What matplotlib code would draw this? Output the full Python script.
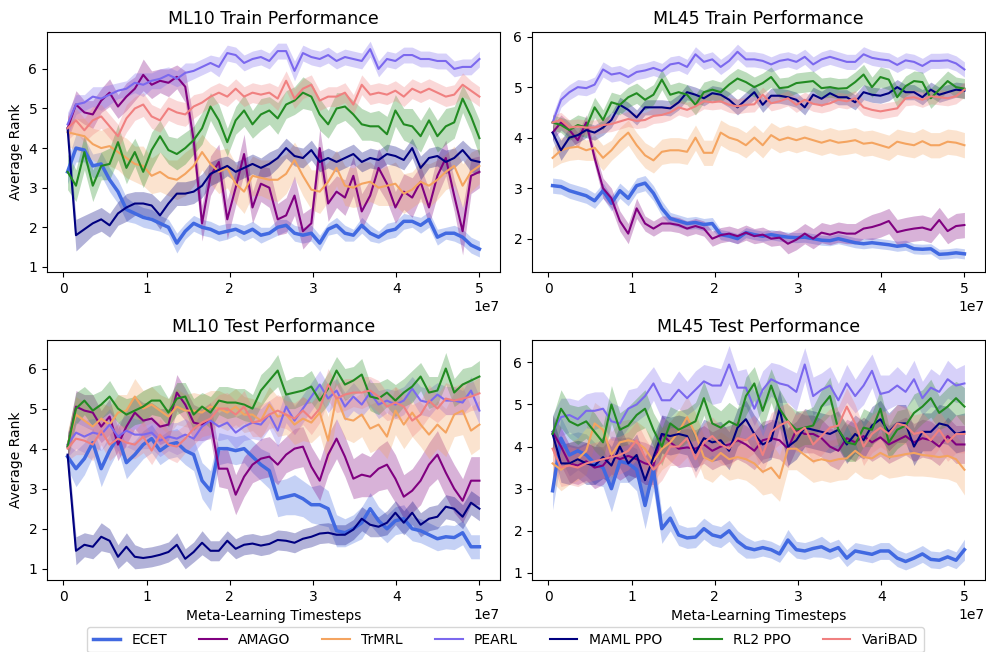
#!/usr/bin/env python3
"""
Average rank of meta-RL methods over meta-training timesteps,
ML10 / ML45 benchmarks, train and test task sets.
"""
import numpy as np
import matplotlib
matplotlib.use("Agg")
import matplotlib.pyplot as plt

METHODS = ["ECET", "AMAGO", "TrMRL", "PEARL", "MAML PPO", "RL2 PPO", "VariBAD"]
COLORS = ["royalblue", "purple", "sandybrown", "mediumslateblue", "navy", "forestgreen", "lightcoral"]

# evaluation checkpoints (env steps)
STEPS = np.linspace(5e5, 5e7, 50)

# ---- ML10 train: mean rank and std per method ----
ML10_TRAIN_ECET = [3.4, 4.0, 3.95, 3.55, 3.6, 3.2, 2.9, 2.45, 2.35, 2.25, 2.2, 2.1, 2.0, 1.6, 1.9, 2.1, 2.0, 1.95, 1.85, 1.9,
                   1.95, 1.85, 1.95, 1.8, 1.85, 2.0, 2.05, 1.85, 1.8, 1.85, 1.6, 1.95, 2.05, 1.85, 1.8, 2.05, 1.85, 1.75, 1.9, 1.95,
                   2.15, 2.15, 2.05, 2.2, 1.75, 1.85, 1.85, 1.75, 1.55, 1.45]
ML10_TRAIN_AMAGO = [4.5, 5.1, 4.9, 4.85, 5.2, 5.4, 5.05, 5.3, 5.5, 5.85, 5.6, 5.7, 5.65, 5.8, 5.55, 4.2, 2.1, 3.3, 3.65, 2.2,
                    3.0, 3.85, 2.5, 3.1, 3.0, 2.2, 2.3, 2.8, 1.9, 2.1, 4.0, 2.6, 2.9, 2.75, 3.3, 2.4, 2.8, 3.5, 3.1, 2.5,
                    2.9, 2.75, 3.15, 2.5, 3.3, 3.75, 2.8, 1.9, 3.3, 3.4]
ML10_TRAIN_TRMRL = [4.4, 4.35, 4.3, 4.1, 4.0, 4.05, 3.9, 3.75, 3.6, 3.55, 3.3, 3.4, 3.25, 3.2, 3.35, 3.55, 3.9, 3.6, 3.4, 3.5,
                    3.1, 2.9, 3.3, 3.25, 3.2, 3.2, 3.35, 3.7, 3.3, 2.95, 2.9, 3.15, 3.5, 3.05, 3.0, 3.1, 3.15, 3.0, 3.05, 3.1,
                    2.85, 2.95, 3.15, 3.05, 3.2, 3.4, 3.55, 3.05, 3.4, 3.55]
ML10_TRAIN_PEARL = [4.6, 5.1, 5.15, 5.3, 5.25, 5.35, 5.45, 5.5, 5.65, 5.6, 5.7, 5.75, 5.85, 5.75, 5.9, 5.95, 6.05, 6.15, 6.05, 6.4,
                    6.35, 6.15, 6.25, 6.3, 6.2, 6.45, 6.45, 5.95, 6.4, 6.3, 6.25, 6.35, 6.2, 6.3, 6.25, 6.2, 6.5, 6.0, 6.25, 6.2,
                    6.35, 6.35, 6.25, 6.25, 6.2, 6.2, 6.0, 6.05, 6.05, 6.25]
ML10_TRAIN_MAML = [4.5, 1.8, 1.95, 2.1, 2.2, 2.05, 2.35, 2.5, 2.6, 2.6, 2.55, 2.3, 2.6, 2.85, 2.85, 2.9, 3.05, 3.35, 3.45, 3.55,
                   3.4, 3.5, 3.6, 3.5, 3.6, 3.75, 4.0, 3.8, 3.75, 3.95, 3.65, 3.75, 3.65, 3.75, 3.85, 3.65, 3.75, 3.7, 3.85, 3.8,
                   3.7, 4.0, 3.5, 3.75, 3.8, 3.65, 3.75, 3.95, 3.7, 3.65]
ML10_TRAIN_RL2 = [3.4, 3.05, 3.9, 3.05, 3.55, 3.6, 4.15, 3.5, 3.9, 3.4, 3.95, 4.3, 3.95, 3.85, 4.0, 4.2, 4.5, 5.05, 4.7, 4.15,
                  4.7, 4.95, 4.6, 4.85, 4.95, 4.75, 5.1, 5.2, 5.4, 5.3, 4.85, 4.6, 5.0, 5.05, 4.85, 4.6, 4.55, 4.55, 4.35, 4.95,
                  4.6, 4.55, 4.3, 4.7, 4.3, 4.55, 4.65, 5.25, 4.8, 4.25]
ML10_TRAIN_VARIBAD = [4.5, 4.7, 4.45, 4.7, 4.8, 4.55, 4.3, 4.75, 5.0, 5.1, 4.8, 4.7, 5.0, 4.9, 4.85, 5.05, 5.15, 5.3, 5.4, 5.3,
                      5.5, 5.3, 5.4, 5.35, 5.4, 5.25, 5.7, 5.25, 5.5, 5.6, 5.2, 5.3, 5.3, 5.4, 5.1, 5.6, 5.35, 5.4, 5.35, 5.45,
                      5.3, 5.5, 5.4, 5.5, 5.4, 5.3, 5.35, 5.6, 5.45, 5.3]

ML10_TRAIN_ECET_SD = [0.3, 0.35, 0.3, 0.3, 0.3, 0.3, 0.3, 0.3, 0.25, 0.25, 0.25, 0.2, 0.2, 0.25, 0.2, 0.2, 0.2, 0.2, 0.2, 0.2,
                      0.15, 0.2, 0.2, 0.2, 0.15, 0.2, 0.15, 0.2, 0.2, 0.2, 0.2, 0.15, 0.2, 0.2, 0.15, 0.2, 0.2, 0.15, 0.2, 0.2,
                      0.2, 0.15, 0.2, 0.2, 0.2, 0.15, 0.2, 0.2, 0.2, 0.2]
ML10_TRAIN_AMAGO_SD = [0.3, 0.35, 0.3, 0.35, 0.3, 0.35, 0.3, 0.35, 0.3, 0.4, 0.35, 0.3, 0.35, 0.3, 0.4, 0.5, 0.45, 0.5, 0.45, 0.5,
                       0.45, 0.5, 0.4, 0.45, 0.5, 0.4, 0.45, 0.5, 0.45, 0.4, 0.5, 0.45, 0.4, 0.45, 0.5, 0.45, 0.4, 0.5, 0.45, 0.4,
                       0.45, 0.5, 0.4, 0.45, 0.5, 0.45, 0.4, 0.6, 0.45, 0.4]
ML10_TRAIN_TRMRL_SD = [0.35, 0.4, 0.45, 0.4, 0.45, 0.5, 0.45, 0.5, 0.45, 0.5, 0.45, 0.5, 0.45, 0.5, 0.55, 0.5, 0.45, 0.5, 0.55, 0.5,
                       0.5, 0.55, 0.5, 0.45, 0.5, 0.55, 0.5, 0.45, 0.5, 0.5, 0.55, 0.5, 0.45, 0.5, 0.5, 0.55, 0.5, 0.45, 0.5, 0.55,
                       0.5, 0.45, 0.5, 0.55, 0.5, 0.45, 0.5, 0.55, 0.5, 0.45]
ML10_TRAIN_PEARL_SD = [0.3, 0.25, 0.2, 0.25, 0.3, 0.25, 0.2, 0.2, 0.25, 0.3, 0.2, 0.25, 0.2, 0.2, 0.25, 0.2, 0.2, 0.2, 0.25, 0.2,
                       0.2, 0.2, 0.2, 0.2, 0.2, 0.2, 0.2, 0.25, 0.2, 0.2, 0.2, 0.2, 0.2, 0.2, 0.2, 0.2, 0.2, 0.2, 0.2, 0.2,
                       0.2, 0.2, 0.2, 0.2, 0.2, 0.2, 0.2, 0.2, 0.2, 0.2]
ML10_TRAIN_MAML_SD = [0.3, 0.4, 0.35, 0.3, 0.3, 0.3, 0.3, 0.35, 0.3, 0.3, 0.3, 0.35, 0.3, 0.3, 0.3, 0.3, 0.3, 0.3, 0.3, 0.25,
                      0.25, 0.25, 0.25, 0.25, 0.3, 0.25, 0.25, 0.25, 0.25, 0.25, 0.25, 0.25, 0.25, 0.25, 0.25, 0.25, 0.25, 0.25, 0.25, 0.25,
                      0.25, 0.25, 0.3, 0.25, 0.25, 0.3, 0.25, 0.25, 0.3, 0.3]
ML10_TRAIN_RL2_SD = [0.45, 0.4, 0.45, 0.4, 0.35, 0.4, 0.45, 0.4, 0.35, 0.4, 0.45, 0.4, 0.35, 0.4, 0.4, 0.35, 0.4, 0.35, 0.4, 0.35,
                     0.35, 0.4, 0.35, 0.4, 0.35, 0.4, 0.35, 0.35, 0.4, 0.35, 0.4, 0.35, 0.4, 0.35, 0.35, 0.4, 0.35, 0.4, 0.45, 0.4,
                     0.4, 0.45, 0.4, 0.35, 0.4, 0.45, 0.4, 0.35, 0.4, 0.45]
ML10_TRAIN_VARIBAD_SD = [0.3, 0.3, 0.3, 0.35, 0.3, 0.3, 0.3, 0.35, 0.3, 0.3, 0.3, 0.3, 0.3, 0.3, 0.3, 0.3, 0.25, 0.25, 0.25, 0.25,
                         0.25, 0.25, 0.25, 0.25, 0.25, 0.3, 0.25, 0.25, 0.25, 0.25, 0.25, 0.25, 0.25, 0.25, 0.25, 0.25, 0.25, 0.25, 0.25, 0.25,
                         0.25, 0.25, 0.25, 0.25, 0.25, 0.25, 0.25, 0.3, 0.25, 0.25]

# ---- ML45 train ----
ML45_TRAIN_ECET = [3.05, 3.03, 2.95, 2.9, 2.85, 2.75, 2.95, 2.7, 2.95, 2.8, 3.05, 3.1, 2.9, 2.6, 2.4, 2.35, 2.3, 2.32, 2.28, 2.3,
                   2.08, 2.05, 2.0, 2.12, 2.08, 2.05, 2.08, 2.05, 2.03, 2.02, 2.03, 2.0, 1.97, 1.96, 2.0, 1.96, 1.92, 1.9, 1.92, 1.9,
                   1.88, 1.85, 1.87, 1.8, 1.79, 1.8, 1.69, 1.7, 1.72, 1.7]
ML45_TRAIN_AMAGO = [4.1, 4.3, 4.15, 3.95, 4.3, 3.6, 3.0, 2.8, 2.35, 2.1, 2.6, 2.3, 2.2, 2.3, 2.3, 2.27, 2.2, 2.25, 2.2, 2.0,
                    2.07, 2.1, 2.05, 2.12, 2.05, 2.08, 2.0, 2.02, 1.9, 1.98, 2.1, 2.0, 2.12, 2.08, 2.13, 2.1, 2.1, 2.2, 2.23, 2.28,
                    2.35, 2.13, 2.17, 2.2, 2.22, 2.17, 2.37, 2.15, 2.25, 2.27]
ML45_TRAIN_TRMRL = [3.6, 3.75, 3.8, 3.82, 3.75, 3.8, 3.6, 3.75, 3.95, 4.1, 3.85, 3.65, 3.55, 3.72, 3.75, 3.75, 3.72, 4.0, 3.7, 3.7,
                    4.1, 4.0, 3.95, 3.85, 4.0, 3.85, 4.05, 3.95, 4.0, 3.95, 4.0, 3.95, 3.9, 3.95, 3.9, 3.92, 3.95, 3.88, 3.9, 3.85,
                    3.8, 3.92, 3.88, 3.85, 3.93, 3.85, 3.85, 3.92, 3.9, 3.85]
ML45_TRAIN_PEARL = [4.3, 4.75, 4.9, 5.0, 4.98, 5.05, 5.35, 5.25, 5.28, 5.2, 5.3, 5.33, 5.38, 5.32, 5.45, 5.48, 5.4, 5.65, 5.5, 5.55,
                    5.4, 5.52, 5.7, 5.55, 5.55, 5.52, 5.45, 5.52, 5.55, 5.5, 5.6, 5.45, 5.55, 5.6, 5.55, 5.5, 5.5, 5.65, 5.58, 5.55,
                    5.53, 5.44, 5.53, 5.5, 5.42, 5.52, 5.52, 5.53, 5.47, 5.35]
ML45_TRAIN_MAML = [4.1, 3.75, 4.0, 4.05, 4.15, 4.1, 4.2, 4.35, 4.65, 4.55, 4.4, 4.6, 4.6, 4.6, 4.58, 4.7, 4.9, 4.85, 4.78, 4.88,
                   4.85, 4.75, 4.6, 4.75, 4.9, 4.65, 4.83, 4.83, 4.8, 4.75, 4.6, 4.85, 4.77, 4.88, 4.8, 4.8, 4.7, 4.9, 4.85, 4.83,
                   4.88, 5.0, 4.9, 4.9, 4.8, 4.95, 4.85, 4.9, 4.95, 4.93]
ML45_TRAIN_RL2 = [4.3, 4.25, 4.15, 4.25, 4.2, 4.6, 4.35, 4.7, 4.65, 4.8, 4.88, 4.75, 4.85, 5.15, 4.85, 4.9, 4.85, 4.65, 4.9, 4.95,
                  4.9, 5.05, 5.17, 5.1, 5.0, 5.08, 5.2, 4.98, 5.0, 5.08, 5.1, 5.12, 4.98, 5.0, 4.97, 4.98, 5.1, 5.25, 5.0, 5.2,
                  5.15, 4.8, 5.02, 5.12, 5.1, 4.78, 4.95, 5.12, 5.0, 4.97]
ML45_TRAIN_VARIBAD = [4.3, 4.35, 4.2, 4.22, 4.2, 4.2, 4.25, 4.27, 4.32, 4.37, 4.33, 4.35, 4.43, 4.45, 4.5, 4.6, 4.55, 4.62, 4.72, 4.7,
                      4.72, 4.65, 4.62, 4.65, 4.66, 4.85, 4.68, 4.72, 4.78, 4.65, 4.75, 4.67, 4.64, 4.68, 4.75, 4.72, 4.78, 4.6, 4.55, 4.52,
                      4.55, 4.58, 4.78, 4.8, 4.75, 4.82, 4.8, 4.78, 4.82, 4.95]

ML45_TRAIN_ECET_SD = [0.15, 0.15, 0.15, 0.15, 0.15, 0.15, 0.15, 0.15, 0.15, 0.15, 0.15, 0.15, 0.15, 0.15, 0.12, 0.12, 0.12, 0.12, 0.12, 0.12,
                      0.1, 0.1, 0.1, 0.1, 0.1, 0.1, 0.1, 0.1, 0.1, 0.1, 0.1, 0.1, 0.1, 0.1, 0.1, 0.1, 0.1, 0.1, 0.1, 0.1,
                      0.1, 0.1, 0.1, 0.1, 0.1, 0.1, 0.1, 0.1, 0.1, 0.1]
ML45_TRAIN_AMAGO_SD = [0.15, 0.15, 0.15, 0.15, 0.15, 0.15, 0.2, 0.2, 0.2, 0.2, 0.2, 0.15, 0.15, 0.15, 0.15, 0.15, 0.15, 0.15, 0.15, 0.15,
                       0.15, 0.15, 0.15, 0.15, 0.15, 0.15, 0.15, 0.15, 0.2, 0.2, 0.2, 0.2, 0.2, 0.2, 0.2, 0.2, 0.2, 0.2, 0.25, 0.25,
                       0.25, 0.25, 0.25, 0.25, 0.25, 0.25, 0.25, 0.25, 0.25, 0.25]
ML45_TRAIN_TRMRL_SD = [0.2, 0.25, 0.25, 0.25, 0.2, 0.25, 0.25, 0.2, 0.25, 0.25, 0.25, 0.25, 0.25, 0.25, 0.25, 0.25, 0.25, 0.25, 0.25, 0.25,
                       0.25, 0.25, 0.25, 0.25, 0.25, 0.25, 0.25, 0.25, 0.25, 0.25, 0.25, 0.25, 0.25, 0.25, 0.25, 0.25, 0.25, 0.25, 0.25, 0.25,
                       0.25, 0.25, 0.25, 0.25, 0.25, 0.25, 0.25, 0.25, 0.25, 0.25]
ML45_TRAIN_PEARL_SD = [0.15, 0.15, 0.15, 0.15, 0.15, 0.15, 0.15, 0.15, 0.15, 0.15, 0.15, 0.15, 0.15, 0.15, 0.15, 0.15, 0.15, 0.15, 0.15, 0.15,
                       0.15, 0.15, 0.15, 0.15, 0.15, 0.15, 0.15, 0.15, 0.15, 0.15, 0.15, 0.15, 0.15, 0.15, 0.15, 0.15, 0.15, 0.15, 0.15, 0.15,
                       0.15, 0.15, 0.15, 0.15, 0.15, 0.15, 0.15, 0.15, 0.15, 0.15]
ML45_TRAIN_MAML_SD = [0.15, 0.2, 0.2, 0.15, 0.15, 0.15, 0.15, 0.15, 0.15, 0.15, 0.15, 0.15, 0.15, 0.15, 0.15, 0.15, 0.15, 0.15, 0.15, 0.15,
                      0.15, 0.15, 0.15, 0.15, 0.15, 0.15, 0.15, 0.15, 0.15, 0.15, 0.15, 0.15, 0.15, 0.15, 0.15, 0.15, 0.15, 0.15, 0.15, 0.15,
                      0.15, 0.15, 0.15, 0.15, 0.15, 0.15, 0.15, 0.15, 0.15, 0.15]
ML45_TRAIN_RL2_SD = [0.15, 0.15, 0.2, 0.2, 0.2, 0.2, 0.2, 0.2, 0.2, 0.2, 0.2, 0.2, 0.2, 0.2, 0.2, 0.2, 0.2, 0.2, 0.2, 0.2,
                     0.2, 0.2, 0.2, 0.2, 0.2, 0.2, 0.2, 0.2, 0.2, 0.2, 0.2, 0.2, 0.2, 0.2, 0.2, 0.2, 0.2, 0.2, 0.2, 0.2,
                     0.2, 0.2, 0.2, 0.2, 0.2, 0.2, 0.2, 0.2, 0.2, 0.2]
ML45_TRAIN_VARIBAD_SD = [0.15, 0.15, 0.15, 0.15, 0.15, 0.15, 0.15, 0.15, 0.15, 0.15, 0.15, 0.15, 0.15, 0.15, 0.15, 0.15, 0.15, 0.15, 0.15, 0.15,
                         0.15, 0.15, 0.15, 0.15, 0.15, 0.15, 0.15, 0.15, 0.15, 0.15, 0.15, 0.15, 0.15, 0.15, 0.15, 0.15, 0.15, 0.15, 0.15, 0.15,
                         0.15, 0.15, 0.15, 0.15, 0.15, 0.15, 0.15, 0.15, 0.15, 0.15]

# ---- ML10 test ----
ML10_TEST_ECET = [3.8, 3.5, 3.75, 4.15, 3.5, 3.95, 4.3, 3.65, 3.85, 4.1, 4.25, 3.95, 4.1, 4.15, 3.95, 3.85, 3.2, 2.95, 4.0, 4.0,
                  3.95, 4.0, 3.8, 3.6, 3.45, 2.75, 2.8, 2.85, 2.75, 2.6, 2.6, 2.5, 1.95, 1.9, 2.0, 2.15, 2.5, 2.2, 2.0, 2.2,
                  2.25, 2.0, 1.95, 1.85, 1.75, 1.8, 1.78, 1.9, 1.55, 1.55]
ML10_TEST_AMAGO = [4.05, 5.05, 4.95, 4.9, 4.55, 4.8, 4.1, 4.55, 4.9, 4.7, 4.75, 4.55, 4.6, 5.4, 5.1, 4.65, 4.6, 4.7, 3.5, 3.5,
                   2.85, 3.3, 3.6, 3.75, 3.8, 3.6, 3.85, 4.0, 4.05, 3.55, 3.2, 3.85, 4.25, 3.8, 3.25, 3.35, 3.3, 3.5, 3.6, 3.25,
                   2.8, 2.95, 3.2, 3.6, 3.85, 3.4, 3.0, 2.7, 3.2, 3.2]
ML10_TEST_TRMRL = [4.1, 4.85, 4.7, 4.55, 4.75, 4.6, 4.9, 4.95, 5.3, 5.0, 5.1, 4.95, 4.8, 5.05, 4.95, 4.95, 4.9, 5.05, 5.0, 4.9,
                   5.05, 4.85, 4.85, 4.7, 5.1, 4.8, 4.85, 4.6, 4.75, 4.65, 4.9, 4.2, 5.3, 4.75, 4.7, 4.85, 4.5, 4.6, 4.3, 4.95,
                   4.6, 4.9, 4.6, 4.35, 4.6, 4.4, 4.85, 4.95, 4.45, 4.6]
ML10_TEST_PEARL = [4.1, 4.4, 4.3, 4.4, 4.35, 4.6, 4.3, 4.45, 4.35, 4.35, 4.4, 4.2, 4.3, 4.25, 4.35, 4.25, 4.55, 4.7, 4.55, 4.65,
                   4.4, 4.55, 4.65, 4.6, 4.85, 4.45, 5.05, 4.7, 5.0, 5.3, 5.6, 5.25, 5.45, 5.05, 5.3, 5.1, 5.4, 5.1, 5.2, 5.1,
                   5.2, 5.5, 5.2, 5.15, 5.35, 5.2, 5.2, 5.15, 5.45, 4.95]
ML10_TEST_MAML = [3.85, 1.45, 1.6, 1.55, 1.8, 1.7, 1.3, 1.55, 1.3, 1.27, 1.3, 1.35, 1.42, 1.6, 1.25, 1.42, 1.65, 1.45, 1.45, 1.7,
                  1.5, 1.6, 1.63, 1.58, 1.62, 1.72, 1.7, 1.65, 1.75, 1.8, 1.88, 1.9, 1.85, 1.85, 1.98, 2.25, 2.1, 2.05, 2.15, 2.4,
                  2.15, 2.4, 2.1, 2.25, 2.3, 2.55, 2.5, 2.3, 2.65, 2.5]
ML10_TEST_RL2 = [4.05, 5.0, 5.2, 4.95, 5.1, 5.3, 5.0, 4.85, 4.95, 5.05, 5.2, 5.2, 4.9, 5.25, 5.3, 4.85, 5.05, 4.9, 5.2, 5.15,
                 5.15, 5.1, 5.0, 5.45, 5.7, 5.95, 5.35, 5.4, 5.45, 5.55, 5.2, 5.5, 5.95, 5.6, 5.7, 5.85, 5.3, 5.25, 5.4, 5.2,
                 5.4, 5.55, 5.8, 5.4, 5.45, 6.0, 5.4, 5.6, 5.7, 5.8]
ML10_TEST_VARIBAD = [4.0, 4.25, 4.2, 4.1, 4.45, 4.1, 4.25, 4.15, 4.1, 4.3, 3.95, 4.35, 4.1, 4.05, 4.25, 4.5, 4.65, 4.75, 5.0, 5.0,
                     4.85, 5.05, 4.65, 4.7, 4.85, 4.95, 4.85, 4.75, 4.95, 4.75, 5.0, 5.6, 5.25, 5.35, 5.4, 5.4, 5.45, 5.3, 5.05, 5.15,
                     5.05, 4.7, 4.85, 5.2, 5.0, 5.25, 5.2, 5.25, 5.3, 5.38]

ML10_TEST_ECET_SD = [0.3, 0.45, 0.4, 0.35, 0.45, 0.4, 0.35, 0.4, 0.35, 0.35, 0.35, 0.35, 0.35, 0.35, 0.35, 0.4, 0.45, 0.5, 0.4, 0.35,
                     0.35, 0.35, 0.4, 0.4, 0.45, 0.45, 0.45, 0.5, 0.45, 0.45, 0.5, 0.45, 0.4, 0.35, 0.35, 0.4, 0.4, 0.35, 0.35, 0.35,
                     0.35, 0.3, 0.3, 0.3, 0.3, 0.3, 0.3, 0.3, 0.3, 0.3]
ML10_TEST_AMAGO_SD = [0.3, 0.4, 0.4, 0.45, 0.4, 0.45, 0.4, 0.45, 0.4, 0.45, 0.4, 0.45, 0.4, 0.45, 0.4, 0.45, 0.4, 0.45, 0.45, 0.5,
                      0.5, 0.5, 0.45, 0.5, 0.5, 0.5, 0.45, 0.5, 0.5, 0.5, 0.5, 0.5, 0.5, 0.5, 0.5, 0.55, 0.5, 0.55, 0.6, 0.6,
                      0.55, 0.55, 0.6, 0.55, 0.6, 0.6, 0.6, 0.55, 0.6, 0.6]
ML10_TEST_TRMRL_SD = [0.35, 0.45, 0.45, 0.45, 0.4, 0.45, 0.45, 0.4, 0.45, 0.45, 0.45, 0.4, 0.45, 0.45, 0.4, 0.45, 0.45, 0.4, 0.45, 0.45,
                      0.45, 0.45, 0.4, 0.45, 0.45, 0.5, 0.5, 0.5, 0.55, 0.5, 0.55, 0.6, 0.55, 0.5, 0.55, 0.55, 0.6, 0.6, 0.55, 0.6,
                      0.6, 0.6, 0.55, 0.6, 0.6, 0.6, 0.55, 0.6, 0.6, 0.6]
ML10_TEST_PEARL_SD = [0.3, 0.4, 0.4, 0.35, 0.4, 0.4, 0.35, 0.4, 0.4, 0.35, 0.4, 0.4, 0.35, 0.4, 0.4, 0.35, 0.4, 0.4, 0.35, 0.4,
                      0.4, 0.35, 0.4, 0.4, 0.35, 0.4, 0.4, 0.35, 0.35, 0.35, 0.35, 0.35, 0.3, 0.35, 0.35, 0.3, 0.35, 0.35, 0.3, 0.35,
                      0.35, 0.3, 0.35, 0.35, 0.3, 0.35, 0.35, 0.3, 0.35, 0.35]
ML10_TEST_MAML_SD = [0.3, 0.35, 0.3, 0.3, 0.35, 0.3, 0.3, 0.35, 0.3, 0.25, 0.25, 0.25, 0.25, 0.3, 0.25, 0.25, 0.3, 0.25, 0.25, 0.25,
                     0.25, 0.25, 0.25, 0.25, 0.25, 0.25, 0.25, 0.25, 0.25, 0.25, 0.25, 0.25, 0.25, 0.25, 0.25, 0.3, 0.3, 0.25, 0.3, 0.3,
                     0.3, 0.3, 0.3, 0.3, 0.3, 0.3, 0.3, 0.3, 0.3, 0.3]
ML10_TEST_RL2_SD = [0.3, 0.4, 0.35, 0.4, 0.35, 0.4, 0.35, 0.4, 0.35, 0.4, 0.35, 0.4, 0.35, 0.4, 0.35, 0.4, 0.35, 0.4, 0.35, 0.4,
                    0.35, 0.4, 0.35, 0.4, 0.35, 0.4, 0.35, 0.4, 0.35, 0.4, 0.35, 0.4, 0.35, 0.4, 0.35, 0.4, 0.35, 0.4, 0.35, 0.4,
                    0.35, 0.4, 0.35, 0.4, 0.35, 0.4, 0.35, 0.4, 0.35, 0.4]
ML10_TEST_VARIBAD_SD = [0.3, 0.4, 0.35, 0.4, 0.35, 0.4, 0.35, 0.4, 0.35, 0.4, 0.35, 0.4, 0.35, 0.4, 0.35, 0.4, 0.35, 0.4, 0.35, 0.4,
                        0.35, 0.4, 0.35, 0.4, 0.35, 0.4, 0.35, 0.4, 0.35, 0.4, 0.35, 0.4, 0.35, 0.4, 0.35, 0.4, 0.35, 0.4, 0.35, 0.4,
                        0.35, 0.4, 0.35, 0.4, 0.35, 0.4, 0.35, 0.4, 0.35, 0.4]

# ---- ML45 test ----
ML45_TEST_ECET = [2.95, 4.2, 3.8, 3.9, 3.8, 3.6, 3.5, 3.0, 3.65, 3.6, 3.45, 2.6, 3.45, 2.05, 2.3, 1.9, 1.83, 1.85, 2.05, 1.9,
                  1.85, 2.0, 1.75, 1.6, 1.55, 1.6, 1.55, 1.45, 1.78, 1.55, 1.52, 1.58, 1.62, 1.52, 1.6, 1.35, 1.52, 1.48, 1.44, 1.52,
                  1.52, 1.35, 1.27, 1.35, 1.45, 1.32, 1.3, 1.38, 1.3, 1.55]
ML45_TEST_AMAGO = [4.35, 4.0, 3.6, 3.55, 3.65, 3.5, 3.55, 3.8, 3.7, 3.78, 3.7, 3.6, 3.55, 4.3, 4.1, 3.95, 3.98, 3.95, 4.05, 3.9,
                   4.0, 4.05, 4.15, 4.05, 3.9, 4.15, 4.2, 4.15, 3.95, 4.4, 4.3, 4.3, 4.2, 4.0, 3.9, 4.2, 4.1, 4.25, 4.1, 4.22,
                   4.05, 4.15, 4.25, 4.1, 4.2, 4.15, 4.0, 4.25, 4.05, 4.05]
ML45_TEST_TRMRL = [3.6, 3.45, 3.6, 3.7, 3.9, 4.55, 4.4, 3.8, 4.1, 4.15, 4.1, 3.95, 3.65, 3.95, 4.1, 4.35, 4.7, 4.3, 3.75, 3.65,
                   3.85, 3.7, 3.75, 3.7, 3.6, 3.4, 3.5, 3.25, 3.95, 3.95, 3.8, 3.65, 3.7, 3.65, 3.7, 3.72, 3.9, 3.75, 3.72, 3.85,
                   3.75, 3.78, 3.82, 3.85, 3.8, 3.78, 3.75, 3.78, 3.7, 3.45]
ML45_TEST_PEARL = [4.35, 4.7, 4.75, 4.65, 4.85, 4.85, 4.9, 4.6, 4.55, 4.9, 5.0, 5.2, 5.5, 5.1, 5.1, 5.35, 5.15, 5.35, 5.55, 5.45,
                   5.45, 5.95, 5.4, 5.4, 4.9, 5.35, 5.6, 5.5, 5.45, 5.3, 5.95, 5.2, 5.35, 5.45, 5.1, 5.5, 5.2, 5.45, 5.8, 5.25,
                   5.3, 5.45, 5.3, 5.6, 5.15, 5.4, 5.3, 5.6, 5.45, 5.5]
ML45_TEST_MAML = [4.3, 3.6, 3.6, 3.7, 3.6, 3.55, 3.75, 3.55, 4.0, 3.6, 3.8, 3.2, 3.75, 4.3, 4.25, 4.3, 4.25, 3.85, 4.2, 4.1,
                  4.15, 3.9, 4.45, 4.65, 4.3, 4.05, 4.15, 4.9, 4.0, 4.15, 4.45, 4.4, 4.35, 4.3, 4.4, 4.05, 4.3, 4.15, 4.5, 4.65,
                  4.35, 4.55, 4.55, 4.0, 4.35, 4.35, 4.55, 4.5, 4.3, 4.35]
ML45_TEST_RL2 = [4.3, 4.9, 4.6, 4.5, 4.6, 4.35, 4.1, 5.0, 4.4, 4.5, 4.75, 4.9, 4.4, 4.0, 4.55, 4.4, 4.5, 4.6, 5.15, 4.55,
                 4.45, 4.6, 4.5, 5.2, 5.5, 4.85, 5.45, 4.9, 4.6, 4.4, 4.45, 4.5, 4.95, 5.2, 4.4, 4.1, 4.05, 4.45, 4.4, 4.9,
                 4.1, 4.4, 4.5, 4.8, 4.95, 5.15, 4.8, 4.95, 5.15, 4.95]
ML45_TEST_VARIBAD = [3.95, 3.5, 3.55, 3.5, 3.6, 3.65, 3.7, 3.75, 3.8, 3.9, 4.15, 3.75, 3.45, 3.65, 4.0, 4.0, 4.2, 3.7, 4.1, 4.25,
                     4.05, 3.95, 4.2, 4.15, 4.3, 3.8, 4.35, 4.5, 4.6, 4.3, 4.45, 4.05, 4.25, 4.45, 4.5, 4.95, 4.55, 4.0, 4.3, 4.45,
                     4.3, 4.55, 4.5, 4.3, 4.35, 4.15, 4.4, 4.1, 4.3, 4.3]

ML45_TEST_ECET_SD = [0.45, 0.5, 0.5, 0.45, 0.5, 0.5, 0.45, 0.55, 0.5, 0.45, 0.5, 0.55, 0.5, 0.35, 0.3, 0.25, 0.25, 0.25, 0.25, 0.25,
                     0.25, 0.25, 0.25, 0.25, 0.2, 0.2, 0.2, 0.2, 0.25, 0.2, 0.2, 0.2, 0.25, 0.2, 0.2, 0.2, 0.2, 0.2, 0.2, 0.2,
                     0.2, 0.2, 0.2, 0.2, 0.2, 0.2, 0.2, 0.2, 0.2, 0.25]
ML45_TEST_AMAGO_SD = [0.4, 0.45, 0.45, 0.45, 0.45, 0.5, 0.45, 0.45, 0.5, 0.45, 0.45, 0.5, 0.45, 0.45, 0.45, 0.45, 0.45, 0.45, 0.45, 0.45,
                      0.45, 0.45, 0.45, 0.45, 0.45, 0.45, 0.45, 0.45, 0.45, 0.45, 0.45, 0.45, 0.45, 0.45, 0.45, 0.45, 0.45, 0.45, 0.45, 0.45,
                      0.45, 0.45, 0.45, 0.45, 0.45, 0.45, 0.45, 0.45, 0.45, 0.45]
ML45_TEST_TRMRL_SD = [0.45, 0.5, 0.5, 0.5, 0.55, 0.5, 0.5, 0.55, 0.5, 0.5, 0.5, 0.5, 0.5, 0.5, 0.5, 0.5, 0.5, 0.5, 0.5, 0.5,
                      0.5, 0.5, 0.5, 0.5, 0.55, 0.55, 0.6, 0.55, 0.5, 0.5, 0.5, 0.5, 0.5, 0.5, 0.5, 0.5, 0.5, 0.5, 0.5, 0.5,
                      0.5, 0.5, 0.5, 0.55, 0.5, 0.5, 0.5, 0.55, 0.55, 0.6]
ML45_TEST_PEARL_SD = [0.4, 0.45, 0.4, 0.45, 0.4, 0.45, 0.4, 0.45, 0.4, 0.45, 0.4, 0.45, 0.4, 0.45, 0.4, 0.45, 0.4, 0.45, 0.4, 0.45,
                      0.4, 0.45, 0.4, 0.45, 0.4, 0.45, 0.4, 0.45, 0.4, 0.45, 0.4, 0.45, 0.4, 0.45, 0.4, 0.45, 0.4, 0.45, 0.4, 0.45,
                      0.4, 0.45, 0.4, 0.45, 0.4, 0.45, 0.4, 0.45, 0.4, 0.45]
ML45_TEST_MAML_SD = [0.4, 0.45, 0.5, 0.45, 0.5, 0.45, 0.5, 0.45, 0.5, 0.45, 0.5, 0.55, 0.5, 0.45, 0.45, 0.45, 0.45, 0.45, 0.45, 0.45,
                     0.45, 0.45, 0.45, 0.45, 0.45, 0.45, 0.45, 0.45, 0.45, 0.45, 0.45, 0.45, 0.45, 0.45, 0.45, 0.45, 0.45, 0.45, 0.45, 0.45,
                     0.45, 0.45, 0.45, 0.45, 0.45, 0.45, 0.45, 0.45, 0.45, 0.45]
ML45_TEST_RL2_SD = [0.4, 0.45, 0.4, 0.45, 0.4, 0.45, 0.4, 0.45, 0.4, 0.45, 0.4, 0.45, 0.4, 0.45, 0.4, 0.45, 0.4, 0.45, 0.4, 0.45,
                    0.4, 0.45, 0.4, 0.45, 0.4, 0.45, 0.4, 0.45, 0.4, 0.45, 0.4, 0.45, 0.4, 0.45, 0.4, 0.45, 0.4, 0.45, 0.4, 0.45,
                    0.4, 0.45, 0.4, 0.45, 0.4, 0.45, 0.4, 0.45, 0.4, 0.45]
ML45_TEST_VARIBAD_SD = [0.4, 0.45, 0.45, 0.45, 0.45, 0.45, 0.45, 0.45, 0.45, 0.45, 0.45, 0.45, 0.45, 0.45, 0.45, 0.45, 0.45, 0.45, 0.45, 0.45,
                        0.45, 0.45, 0.45, 0.45, 0.45, 0.45, 0.45, 0.45, 0.45, 0.45, 0.45, 0.45, 0.45, 0.45, 0.45, 0.45, 0.45, 0.45, 0.45, 0.45,
                        0.45, 0.45, 0.45, 0.45, 0.45, 0.45, 0.45, 0.45, 0.45, 0.45]

PANELS = [
    ("ML10 Train Performance",
     [ML10_TRAIN_ECET, ML10_TRAIN_AMAGO, ML10_TRAIN_TRMRL, ML10_TRAIN_PEARL, ML10_TRAIN_MAML, ML10_TRAIN_RL2, ML10_TRAIN_VARIBAD],
     [ML10_TRAIN_ECET_SD, ML10_TRAIN_AMAGO_SD, ML10_TRAIN_TRMRL_SD, ML10_TRAIN_PEARL_SD, ML10_TRAIN_MAML_SD, ML10_TRAIN_RL2_SD,
      ML10_TRAIN_VARIBAD_SD]),
    ("ML45 Train Performance",
     [ML45_TRAIN_ECET, ML45_TRAIN_AMAGO, ML45_TRAIN_TRMRL, ML45_TRAIN_PEARL, ML45_TRAIN_MAML, ML45_TRAIN_RL2, ML45_TRAIN_VARIBAD],
     [ML45_TRAIN_ECET_SD, ML45_TRAIN_AMAGO_SD, ML45_TRAIN_TRMRL_SD, ML45_TRAIN_PEARL_SD, ML45_TRAIN_MAML_SD, ML45_TRAIN_RL2_SD,
      ML45_TRAIN_VARIBAD_SD]),
    ("ML10 Test Performance",
     [ML10_TEST_ECET, ML10_TEST_AMAGO, ML10_TEST_TRMRL, ML10_TEST_PEARL, ML10_TEST_MAML, ML10_TEST_RL2, ML10_TEST_VARIBAD],
     [ML10_TEST_ECET_SD, ML10_TEST_AMAGO_SD, ML10_TEST_TRMRL_SD, ML10_TEST_PEARL_SD, ML10_TEST_MAML_SD, ML10_TEST_RL2_SD,
      ML10_TEST_VARIBAD_SD]),
    ("ML45 Test Performance",
     [ML45_TEST_ECET, ML45_TEST_AMAGO, ML45_TEST_TRMRL, ML45_TEST_PEARL, ML45_TEST_MAML, ML45_TEST_RL2, ML45_TEST_VARIBAD],
     [ML45_TEST_ECET_SD, ML45_TEST_AMAGO_SD, ML45_TEST_TRMRL_SD, ML45_TEST_PEARL_SD, ML45_TEST_MAML_SD, ML45_TEST_RL2_SD,
      ML45_TEST_VARIBAD_SD]),
]

# axes boxes in figure fractions, and y limits per panel
AX_BOXES = [[0.0476, 0.5828, 0.459, 0.368], [0.539, 0.5828, 0.459, 0.368],
            [0.0476, 0.1104, 0.459, 0.368], [0.539, 0.1104, 0.459, 0.368]]
Y_LIMS = [(0.87, 6.93), (1.34, 6.09), (0.72, 6.71), (0.83, 6.53)]


def __plot_panel(ax, title: str, means: list, sds: list):
    for name, color, mean, sd in zip(METHODS, COLORS, means, sds):
        mean = np.asarray(mean)
        sd = np.asarray(sd)
        lw = 2.5 if name == "ECET" else 1.5
        ax.plot(STEPS, mean, color=color, lw=lw, label=name)
        ax.fill_between(STEPS, mean - sd, mean + sd, color=color, alpha=0.3, lw=0)
    ax.set_title(title, fontsize=12.5)
    ax.tick_params(labelsize=10)


def main():
    fig = plt.figure(figsize=(9.87, 6.52), dpi=100)
    axes = []
    for i, (title, means, sds) in enumerate(PANELS):
        ax = fig.add_axes(AX_BOXES[i])
        __plot_panel(ax, title, means, sds)
        ax.set_ylim(*Y_LIMS[i])
        ax.set_xticks([0, 1e7, 2e7, 3e7, 4e7, 5e7])
        if i % 2 == 0:
            ax.set_ylabel("Average Rank", fontsize=10)
        if i >= 2:
            ax.set_xlabel("Meta-Learning Timesteps", fontsize=10)
        axes.append(ax)

    handles, labels = axes[0].get_legend_handles_labels()
    fig.legend(handles, labels, loc="upper center", bbox_to_anchor=(0.512, 0.038),
               ncol=7, fontsize=10, frameon=True, borderaxespad=0.0, columnspacing=2.3)
    fig.savefig("out.png", dpi=100)


if __name__ == '__main__':
    main()
